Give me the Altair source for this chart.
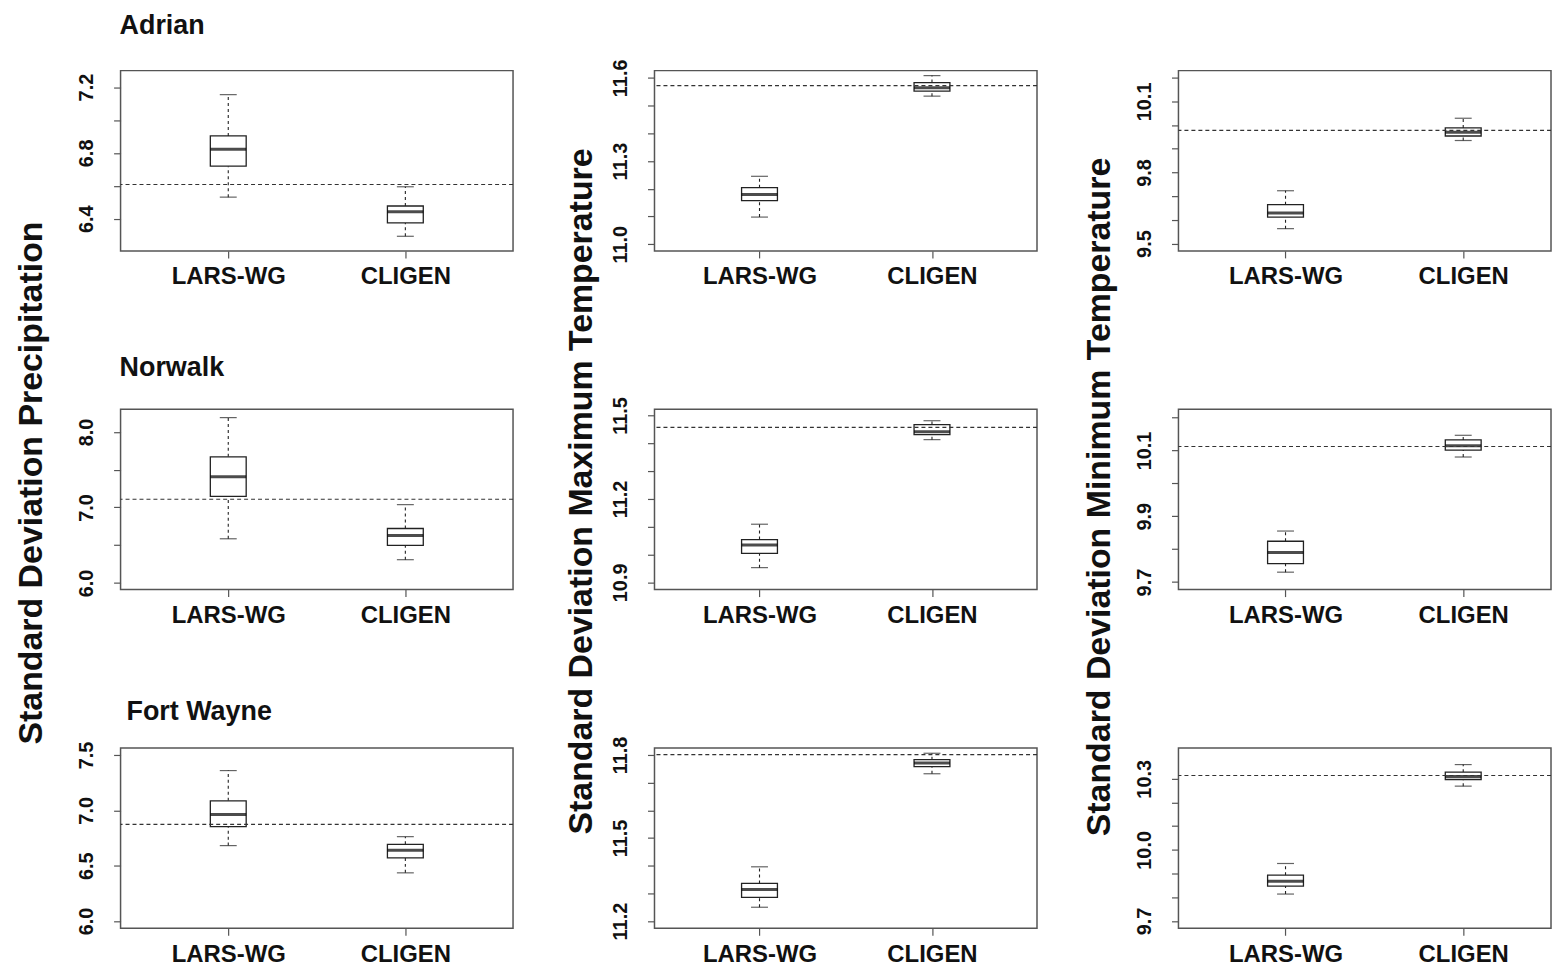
import json
import altair as alt
import pandas as pd

models = ["LARS-WG", "CLIGEN"]
stations = ["Adrian", "Norwalk", "Fort Wayne"]
variables = ["Precipitation", "Maximum Temperature", "Minimum Temperature"]
stat_names = ["lower", "q1", "median", "q3", "upper"]

# [lower whisker, Q1, median, Q3, upper whisker] for Precip, Tmax, Tmin
adrian_lars = [[6.531, 6.719, 6.822, 6.903, 7.154],
               [11.098, 11.157, 11.179, 11.204, 11.245],
               [9.563, 9.612, 9.629, 9.664, 9.723]]
adrian_cligen = [[6.293, 6.374, 6.442, 6.477, 6.594],
                 [11.534, 11.552, 11.564, 11.583, 11.608],
                 [9.935, 9.954, 9.970, 9.988, 10.029]]
norwalk_lars = [[6.585, 7.147, 7.407, 7.670, 8.189],
                [10.953, 11.004, 11.034, 11.054, 11.109],
                [9.730, 9.756, 9.790, 9.824, 9.855]]
norwalk_cligen = [[6.308, 6.497, 6.629, 6.721, 7.037],
                  [11.413, 11.431, 11.441, 11.467, 11.481],
                  [10.080, 10.101, 10.114, 10.132, 10.146]]
fortwayne_lars = [[6.681, 6.852, 6.963, 7.086, 7.359],
                  [11.250, 11.286, 11.314, 11.336, 11.396],
                  [9.8135, 9.847, 9.868, 9.893, 9.9425]]
fortwayne_cligen = [[6.435, 6.570, 6.639, 6.693, 6.762],
                    [11.732, 11.758, 11.771, 11.783, 11.806],
                    [10.269, 10.297, 10.310, 10.328, 10.360]]

# observed values (dashed lines)
adrian_obs = [6.608, 11.572, 9.978]
norwalk_obs = [7.108, 11.457, 10.112]
fortwayne_obs = [6.873, 11.801, 10.314]

lars = [adrian_lars, norwalk_lars, fortwayne_lars]
cligen = [adrian_cligen, norwalk_cligen, fortwayne_cligen]
observed = [adrian_obs, norwalk_obs, fortwayne_obs]

# axis ranges, tick marks and tick labels
y_domains = [[[6.204, 7.30], [10.976, 11.626], [9.469, 10.230]],
             [[5.912, 8.299], [10.874, 11.522], [9.677, 10.225]],
             [[5.934, 7.563], [11.174, 11.825], [9.669, 10.430]]]
y_ticks = [[[6.4, 6.6, 6.8, 7.0, 7.2],
            [11.0, 11.1, 11.2, 11.3, 11.4, 11.5, 11.6],
            [9.5, 9.6, 9.7, 9.8, 9.9, 10.0, 10.1, 10.2]],
           [[6.0, 6.5, 7.0, 7.5, 8.0],
            [10.9, 11.0, 11.1, 11.2, 11.3, 11.4, 11.5],
            [9.7, 9.8, 9.9, 10.0, 10.1, 10.2]],
           [[6.0, 6.5, 7.0, 7.5],
            [11.2, 11.3, 11.4, 11.5, 11.6, 11.7, 11.8],
            [9.7, 9.8, 9.9, 10.0, 10.1, 10.2, 10.3]]]
y_labels = [[[6.4, 6.8, 7.2], [11.0, 11.3, 11.6], [9.5, 9.8, 10.1]],
            [[6.0, 7.0, 8.0], [10.9, 11.2, 11.5], [9.7, 9.9, 10.1]],
            [[6.0, 6.5, 7.0, 7.5], [11.2, 11.5, 11.8], [9.7, 10.0, 10.3]]]

FONT = "Liberation Sans"
FRAME = "#555555"
INK = "#222222"
WIDTHS = [394, 384, 374]
HEIGHT = 181
X_DOMAINS = [[0.42, 2.58], [0.42, 2.58], [0.4255, 2.466]]
TITLE_X = [-79, -63, -69]
TITLE_Y = [413.5, 422, 427.5]
PT_OFFSET = [10, 6, 0]
PT_DY = [0, 0, 6]
PT_DX = [-1, -1, 6]


def panel(r, c):
    rows = []
    for i, (m, st) in enumerate(zip(models, [lars[r][c], cligen[r][c]])):
        row = {"model": m, "pos": i + 1}
        row.update(dict(zip(stat_names, st)))
        rows.append(row)
    df = pd.DataFrame(rows)
    obs_df = pd.DataFrame({"obs": [observed[r][c]]})

    x = alt.X(
        "pos:Q",
        scale=alt.Scale(domain=X_DOMAINS[c], nice=False, zero=False),
        axis=alt.Axis(
            values=[1, 2],
            labelExpr=json.dumps(models) + "[datum.value - 1]",
            title=None, grid=False, domain=False,
            tickSize=7, tickColor=FRAME, tickWidth=1.2,
            labelFont=FONT, labelFontSize=24, labelFontWeight="bold",
            labelColor="#111111", labelBaseline="alphabetic",
            labelPadding=26, labelFlush=False, labelOverlap=False,
        ),
    )
    yscale = alt.Scale(domain=y_domains[r][c], nice=False, zero=False)
    label_expr = ("indexof(" + json.dumps(y_labels[r][c]) +
                  ", datum.value) >= 0 ? format(datum.value, '.1f') : ''")
    axis_kw = dict(
        values=y_ticks[r][c], labelExpr=label_expr, grid=False, domain=False,
        tickSize=7, tickColor=FRAME, tickWidth=1.2,
        labelFont=FONT, labelFontSize=20, labelFontWeight="bold",
        labelColor="#111111", labelAngle=270, labelAlign="center",
        labelBaseline="alphabetic", labelPadding=21,
        labelOverlap=False, labelFlush=False,
    )
    if r == 0:
        axis_kw.update(
            title="Standard Deviation " + variables[c],
            titleFont=FONT, titleFontSize=34, titleFontWeight="bold",
            titleColor="#111111", titleAngle=270, titleAlign="center",
            titleBaseline="alphabetic", titleX=TITLE_X[c], titleY=TITLE_Y[c],
        )
    else:
        axis_kw["title"] = None
    yaxis = alt.Axis(**axis_kw)

    def Y(f):
        return alt.Y(f + ":Q", scale=yscale, axis=yaxis)

    base = alt.Chart(df).encode(x=x)
    whisk_lo = base.mark_rule(color=INK, strokeDash=[3, 3], strokeWidth=1.1).encode(
        y=Y("lower"), y2="q1:Q")
    whisk_hi = base.mark_rule(color=INK, strokeDash=[3, 3], strokeWidth=1.1).encode(
        y=Y("q3"), y2="upper:Q")
    staple_lo = base.mark_tick(orient="horizontal", size=17, thickness=1.2,
                               color=INK).encode(y=Y("lower"))
    staple_hi = base.mark_tick(orient="horizontal", size=17, thickness=1.2,
                               color=INK).encode(y=Y("upper"))
    box = base.mark_bar(size=36, fill="white", stroke=INK, strokeWidth=1.3).encode(
        y=Y("q1"), y2="q3:Q")
    med = base.mark_tick(orient="horizontal", size=36, thickness=3,
                         color="#000000").encode(y=Y("median"))
    obs = alt.Chart(obs_df).mark_rule(color="#333333", strokeDash=[4, 3],
                                      strokeWidth=1.1).encode(y=Y("obs"))

    props = dict(width=WIDTHS[c], height=HEIGHT)
    if c == 0:
        props["title"] = alt.TitleParams(
            text=stations[r], anchor="start", frame="group", orient="top",
            font=FONT, fontSize=27, fontWeight="bold", color="#111111",
            baseline="alphabetic", offset=PT_OFFSET[r], dx=PT_DX[r], dy=PT_DY[r],
        )
    return alt.layer(whisk_lo, whisk_hi, staple_lo, staple_hi, box, med, obs).properties(**props)


panels = [panel(r, c) for r in range(3) for c in range(3)]

chart = alt.concat(*panels, columns=3, spacing={"row": 159, "column": 142},
                   bounds="flush").properties(
    padding={"left": 6, "top": 1, "right": 0, "bottom": 0},
    background="white",
).configure_view(stroke=FRAME, strokeWidth=1.5)

chart.save("out.html", embed_options={"renderer": "svg", "actions": False})
